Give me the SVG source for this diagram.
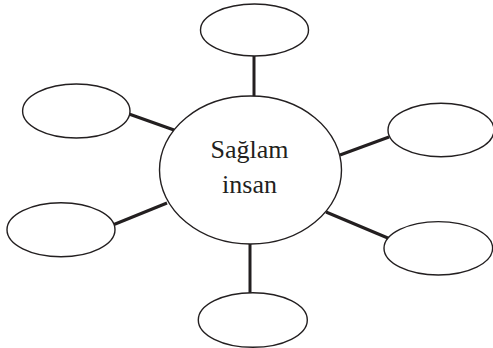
<svg xmlns="http://www.w3.org/2000/svg" width="493" height="348" viewBox="0 0 493 348">
<style>
.n{fill:#fff;stroke:#231f20;stroke-width:1.4}
.c line{stroke:#231f20;stroke-width:3}
.t{font-family:"Liberation Serif","Times New Roman",serif;font-size:26px;fill:#231f20;text-anchor:middle}
</style>
<rect width="493" height="348" fill="#fff"/>
<g class="c" id="connectors">
<line x1="254" y1="56" x2="254" y2="97"/>
<line x1="129" y1="114" x2="174" y2="130"/>
<line x1="389" y1="137" x2="340" y2="155"/>
<line x1="114" y1="224.5" x2="167" y2="203"/>
<line x1="326" y1="212" x2="389" y2="238.5"/>
<line x1="250" y1="243" x2="250" y2="293"/>
</g>
<g id="center"><ellipse class="n" cx="250.5" cy="170" rx="91" ry="74"/>
<text class="t" x="249.5" y="158">Sağlam</text>
<text class="t" x="249.5" y="193">insan</text></g>
<g id="n-top"><ellipse class="n" cx="254.5" cy="30" rx="54" ry="26"/></g>
<g id="n-lefttop"><ellipse class="n" cx="76.3" cy="111" rx="53.7" ry="27"/></g>
<g id="n-righttop"><ellipse class="n" cx="441" cy="130" rx="53" ry="26.7"/></g>
<g id="n-leftbottom"><ellipse class="n" cx="61" cy="229.7" rx="54" ry="27"/></g>
<g id="n-rightbottom"><ellipse class="n" cx="438.3" cy="248.3" rx="54.3" ry="26.7"/></g>
<g id="n-bottom"><ellipse class="n" cx="252.8" cy="320" rx="54.5" ry="27.3"/></g>
</svg>
